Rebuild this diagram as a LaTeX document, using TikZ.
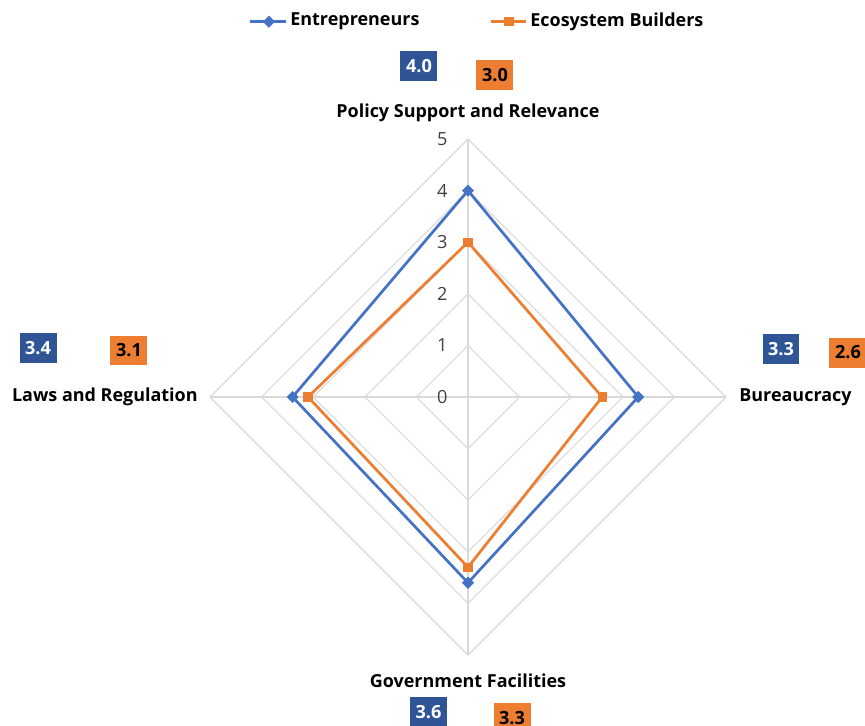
\documentclass[tikz,border=0pt]{standalone}
\usepackage{fontspec}
\setmainfont{Open Sans}
\usetikzlibrary{shapes.geometric}
\definecolor{entblue}{HTML}{4472C4}
\definecolor{ecoorange}{HTML}{ED7D31}
\definecolor{lblblue}{HTML}{2F5597}
\definecolor{gridgray}{HTML}{D9D9D9}
\tikzset{
  gridline/.style={gridgray, line width=0.6pt},
  entline/.style={entblue, line width=1.5pt, line join=round},
  ecoline/.style={ecoorange, line width=1.5pt, line join=round},
  entmark/.style={diamond, fill=entblue, inner sep=0, minimum size=0.24cm},
  ecomark/.style={rectangle, fill=ecoorange, inner sep=0, minimum size=0.18cm},
  entlbl/.style={fill=lblblue, text=white, font=\bfseries\fontsize{10}{12}\selectfont, inner sep=0, minimum width=0.717cm, minimum height=0.581cm},
  ecolbl/.style={fill=ecoorange, text=black, font=\bfseries\fontsize{10}{12}\selectfont, inner sep=0, minimum width=0.717cm, minimum height=0.581cm},
  catlbl/.style={font=\bfseries\fontsize{9.9}{12}\selectfont, inner sep=0},
  ticklbl/.style={font=\fontsize{10}{12}\selectfont, text=black!75, inner sep=0},
}
\begin{document}
\begin{tikzpicture}
\useasboundingbox (-9.070,-6.376) rectangle (7.694,7.694);
\foreach \r in {1,...,5}
  \draw[gridline] (0,\r) -- (\r,0) -- (0,-\r) -- (-\r,0) -- cycle;
\draw[gridline] (0,5) -- (0,-5);
\draw[gridline] (-5,0) -- (5,0);
\foreach \r in {0,...,5}
  \node[ticklbl] (t\r) at (-0.5,\r) {\r};
\coordinate (e1) at (0,4);
\coordinate (e2) at (3.3,0);
\coordinate (e3) at (0,-3.6);
\coordinate (e4) at (-3.4,0);
\coordinate (b1) at (0,3);
\coordinate (b2) at (2.6,0);
\coordinate (b3) at (0,-3.3);
\coordinate (b4) at (-3.1,0);
\draw[entline] (e1) -- (e2) -- (e3) -- (e4) -- cycle;
\foreach \i in {1,...,4}
  \node[entmark] (me\i) at (e\i) {};
\draw[ecoline] (b1) -- (b2) -- (b3) -- (b4) -- cycle;
\foreach \i in {1,...,4}
  \node[ecomark] (mb\i) at (b\i) {};
\node[catlbl] (policy) at (0,5.504) {Policy Support and Relevance};
\node[catlbl, anchor=west] (bureau) at (5.252,0) {Bureaucracy};
\node[catlbl] (govt) at (0,-5.504) {Government Facilities};
\node[catlbl, anchor=east] (laws) at (-5.233,0) {Laws and Regulation};
\node[entlbl] (v1) at (-0.950,6.415) {4.0};
\node[ecolbl] (w1) at (0.523,6.240) {3.0};
\node[entlbl] (v2) at (6.066,0.930) {3.3};
\node[ecolbl] (w2) at (7.364,0.862) {2.6};
\node[entlbl] (v3) at (-0.766,-6.105) {3.6};
\node[ecolbl] (w3) at (0.853,-6.221) {3.3};
\node[entlbl] (v4) at (-8.333,0.940) {3.4};
\node[ecolbl] (w4) at (-6.570,0.901) {3.1};
\coordinate (la) at (-4.225,7.273);
\coordinate (lb) at (-3.527,7.273);
\draw[entline] (la) -- (lb);
\node[entmark] (lm1) at (-3.857,7.273) {};
\node[catlbl, anchor=west] (leg1) at (-3.450,7.273) {Entrepreneurs};
\coordinate (lc) at (0.446,7.273);
\coordinate (ld) at (1.124,7.273);
\draw[ecoline] (lc) -- (ld);
\node[ecomark] (lm2) at (0.795,7.273) {};
\node[catlbl, anchor=west] (leg2) at (1.202,7.273) {Ecosystem Builders};
\end{tikzpicture}
\end{document}
